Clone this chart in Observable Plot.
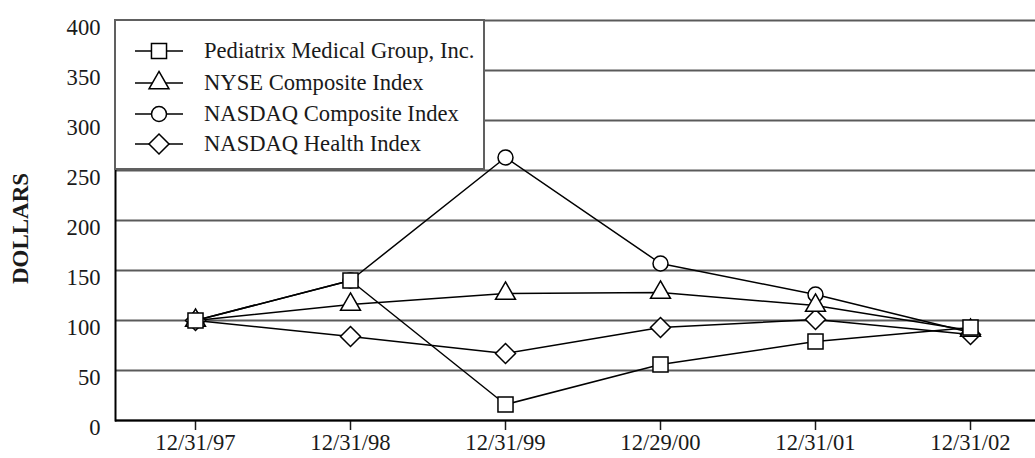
<!DOCTYPE html>
<html>
<head>
<meta charset="utf-8">
<script src="https://cdn.jsdelivr.net/npm/d3@7"></script>
<script src="https://cdn.jsdelivr.net/npm/@observablehq/plot@0.6"></script>
<style>
  html, body { margin: 0; padding: 0; background: white; }
  #wrap { position: relative; width: 1035px; height: 458px; }
  #legend {
    position: absolute; box-sizing: border-box;
    left: 114px; top: 19px; width: 371px; height: 151px;
    background: white; border: 2px solid #606060;
    font-family: "Liberation Serif", "Times New Roman", Times, "DejaVu Serif", serif; font-size: 22.6px; color: #1a1a1a;
  }
  .row { position: absolute; left: 18px; height: 30px; display: flex; align-items: center; }
  .row svg { margin-right: 20px; }
</style>
</head>
<body>
<div id="wrap"></div>
<script>
// ---- data ----
const dates = ["12/31/97", "12/31/98", "12/31/99", "12/29/00", "12/31/01", "12/31/02"];
const pediatrix = [100, 140, 16, 56, 79, 93];
const nyse = [100, 116, 127, 128, 115, 90];
const nasdaq = [100, 140, 263, 157, 126, 88];
const health = [100, 84, 67, 93, 101, 86];
const seriesNames = ["Pediatrix Medical Group, Inc.", "NYSE Composite Index", "NASDAQ Composite Index", "NASDAQ Health Index"];
const yTicks = [0, 50, 100, 150, 200, 250, 300, 350, 400];
const yLabel = "DOLLARS";

// ---- styling config ----
const seriesValues = [pediatrix, nyse, nasdaq, health];
const markerStyle = [
  {symbol: "square", r: 8.5, d3s: d3.symbolSquare},
  {symbol: "triangle", r: 7.4, d3s: d3.symbolTriangle},
  {symbol: "circle", r: 7.5, d3s: d3.symbolCircle},
  {symbol: "diamond2", r: 9, d3s: d3.symbolDiamond2}
];

const rows = seriesNames.map((name, k) =>
  dates.map((d, i) => ({date: d, value: seriesValues[k][i], series: name})));

// draw order: NASDAQ comp, Health, NYSE, Pediatrix on top
const drawOrder = [2, 3, 1, 0];

const serif = `"Liberation Serif", "Times New Roman", Times, "DejaVu Serif", serif`;

const marks = [
  Plot.gridY(yTicks, {stroke: "#5a5a5a", strokeOpacity: 1, strokeWidth: 2}),
  Plot.axisY({ticks: yTicks, tickSize: 0, tickPadding: 15, dy: 7, label: null}),
  Plot.text([yLabel], {text: d => d, frameAnchor: "left", textAnchor: "middle", rotate: -90, dx: -95, dy: 8,
    fontWeight: "bold", fontSize: 23}),
  Plot.axisX({ticks: dates, tickSize: 10, tickPadding: 3, label: null, strokeWidth: 1.5}),
  Plot.ruleY([0], {stroke: "black", strokeWidth: 2}),
  Plot.frame({anchor: "left", stroke: "black", strokeWidth: 2}),
  ...drawOrder.map(k => Plot.line(rows[k], {x: "date", y: "value", stroke: "black", strokeWidth: 1.5})),
  ...drawOrder.map(k => Plot.dot(rows[k], {x: "date", y: "value", symbol: markerStyle[k].symbol,
    r: markerStyle[k].r, fill: "white", stroke: "black", strokeWidth: 1.5}))
];

const chart = Plot.plot({
  width: 1035, height: 458,
  marginLeft: 115, marginRight: 0, marginTop: 20, marginBottom: 38,
  style: {fontFamily: serif, fontSize: "22.6px", color: "#1a1a1a", background: "white"},
  x: {type: "point", domain: dates, range: [193, 972], padding: 0},
  y: {domain: [0, 400]},
  marks
});
const wrap = document.getElementById("wrap");
wrap.appendChild(chart);

// ---- legend ----
const legend = document.createElement("div");
legend.id = "legend";
const rowTops = [15, 47, 78, 108];
seriesNames.forEach((name, k) => {
  const row = document.createElement("div");
  row.className = "row";
  row.style.top = rowTops[k] + "px";
  const ms = markerStyle[k];
  const path = d3.symbol(ms.d3s, Math.PI * ms.r * ms.r)();
  row.innerHTML = `<svg width="50" height="30" viewBox="-25 -15 50 30">
    <line x1="-24" x2="24" y1="0" y2="0" stroke="black" stroke-width="1.5"/>
    <path d="${path}" fill="white" stroke="black" stroke-width="1.5"/></svg><span>${name}</span>`;
  legend.appendChild(row);
});
wrap.appendChild(legend);
</script>
</body>
</html>
